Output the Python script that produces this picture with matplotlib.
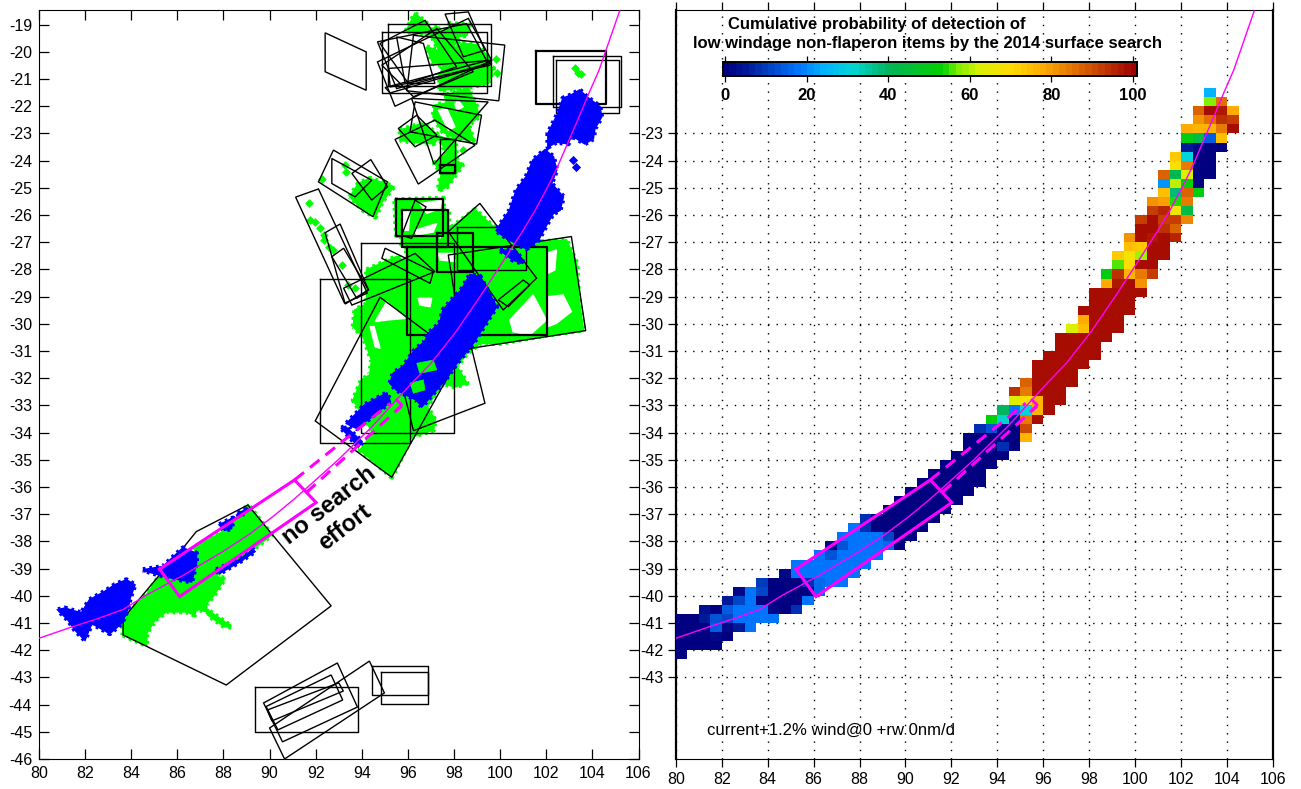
#!/usr/bin/env python3
# Surface search coverage (left) and cumulative detection probability (right)
import numpy as np
import matplotlib
matplotlib.use('Agg')
import matplotlib.pyplot as plt
from matplotlib.colors import LinearSegmentedColormap, Normalize

plt.rcParams['font.family'] = ['Liberation Sans', 'DejaVu Sans']
plt.rcParams['axes.unicode_minus'] = False

# -------------------------
# left panel data (lon, lat)
# -------------------------
lon_ticks = list(range(80, 107, 2))
lat_ticks_left = list(range(-46, -18))
lat_ticks_right = list(range(-43, -22))

arc_lon = [80, 81.48, 82.5, 83.65, 84.66, 86.24, 87.98, 89.1, 90.14, 91.1, 92, 93, 94.5, 95.55, 96.2, 97, 98.07,
           99.14, 99.93, 100.93, 101.5, 102.07, 102.5, 103.36, 103.86, 104.29, 105.18]
arc_lat = [-41.56, -41.13, -40.85, -40.5, -39.97, -39.25, -38.37, -37.75, -37.09, -36.42, -35.74, -34.98, -33.73,
           -32.75, -32.15, -31.45, -30.3, -28.98, -27.96, -26.65, -25.85, -24.95, -24.2, -22.51, -21.5, -20.67, -18.5]

# lon0, lon1, lat0, lat1
search_rects = [
    (102.3, 105.25, -20.15, -22.02), (102.41, 105.15, -20.31, -22.23),
    (95.15, 99.6, -18.98, -21.26), (94.87, 99.41, -19.26, -21.53), (97.39, 98.04, -23.22, -24.47),
    (92.2, 96.09, -28.36, -34.39), (93.96, 98.0, -27.04, -34.02),
    (98.11, 101.14, -26.43, -28.02), (89.35, 93.82, -43.37, -44.99),
    (94.46, 96.88, -42.58, -43.65), (94.85, 96.88, -42.8, -43.98),
]
search_rects_thick = [
    (101.55, 104.58, -19.96, -21.90), (97.39, 98.04, -24.16, -24.47), (95.98, 102.04, -27.16, -30.41),
    (97.25, 98.83, -26.67, -28.08), (95.47, 97.53, -25.42, -26.78), (95.73, 97.75, -25.8, -27.17),
]
search_polys = [
    [(92.41, -19.30), (94.19, -20.0), (94.19, -21.41), (92.41, -20.73)],
    [(97.61, -18.61), (98.62, -18.53), (99.34, -19.94), (98.40, -20.18)],
    [(94.68, -20.37), (98.62, -18.77), (99.63, -20.31), (95.44, -22.0)],
    [(96.24, -19.39), (100.2, -19.75), (99.94, -21.8), (95.95, -21.43)],
    [(94.79, -19.69), (96.74, -18.84), (98.11, -20.55), (96.02, -21.16)],
    [(95.51, -19.45), (96.67, -19.69), (97.17, -21.16), (95.88, -21.16)],
    [(95.15, -20.61), (99.63, -20.31), (99.56, -20.49), (95.23, -21.29)],
    [(94.68, -19.63), (98.55, -18.96), (99.48, -20.43), (95.51, -21.35)],
    [(94.87, -20.49), (97.25, -19.14), (98.83, -20.73), (96.24, -21.65)],
    [(95.01, -21.31), (99.48, -20.31), (99.56, -20.43), (95.23, -21.51)],
    [(96.31, -21.84), (99.19, -22.33), (98.98, -23.39), (96.09, -22.94)],
    [(95.44, -23.22), (97.17, -22.51), (98.91, -23.43), (96.45, -24.86)],
    [(95.58, -22.82), (96.38, -22.33), (97.25, -23.06), (96.31, -23.49)],
    [(97.13, -24.13), (99.48, -21.84), (96.16, -21.71)],
    [(92.12, -24.78), (92.77, -23.61), (95.11, -24.78), (94.48, -26.06)],
    [(92.7, -23.92), (94.43, -24.72), (93.71, -25.33), (92.7, -24.84)],
    [(93.57, -24.47), (94.39, -23.96), (95.11, -24.96), (94.43, -25.45)],
    [(91.13, -25.34), (92.12, -25.04), (94.24, -28.87), (93.25, -29.24)],
    [(92.41, -26.65), (93.06, -26.33), (94.29, -28.75), (93.28, -29.27)],
    [(92.7, -27.53), (93.21, -27.22), (94.29, -28.75), (93.78, -29.06)],
    [(91.98, -33.57), (94.79, -29.02), (98.23, -31.2), (95.3, -35.64)],
    [(96.24, -33.93), (99.34, -32.92), (98.76, -30.9), (95.66, -31.94)],
    [(98.4, -30.94), (103.71, -30.25), (103.09, -26.79), (97.75, -27.47)],
    [(97.75, -26.61), (99.12, -25.57), (101.58, -28.32), (100.13, -29.49)],
    [(99.92, -29.12), (101.0, -28.39), (101.29, -28.57), (100.35, -29.37)],
    [(93.21, -28.69), (96.31, -27.41), (97.17, -28.08), (93.57, -29.31)],
    [(94.87, -27.59), (95.01, -27.22), (97.1, -28.08), (96.96, -28.51)],
    [(96.31, -25.45), (96.78, -25.7), (96.16, -26.86), (95.73, -26.74)],
    [(83.65, -41.44), (88.12, -43.28), (92.67, -40.37), (89.06, -36.66), (86.82, -37.64),
     (86.24, -38.25), (85.23, -39.23), (83.65, -40.83)],
    [(89.74, -43.94), (92.94, -42.47), (93.81, -44.09), (90.56, -45.37)],
    [(89.85, -44.07), (92.67, -42.91), (93.17, -43.83), (90.36, -44.93)],
    [(90.0, -44.86), (94.33, -42.4), (94.98, -43.57), (90.65, -46.0)],
    [(89.9, -44.2), (93.0, -43.2), (93.2, -43.5), (90.1, -44.6)],
]

green_areas = [
    [(96.31, -18.59), (96.89, -19.02), (96.38, -19.26), (95.95, -19.2)],
    [(96.0, -19.25), (97.4, -19.1), (97.03, -19.39), (96.74, -19.33)],
    [(97.75, -18.96), (98.69, -19.02), (98.55, -19.39), (97.9, -19.45)],
    [(97.03, -19.39), (97.68, -19.2), (98.26, -19.57), (97.46, -20.12)],
    [(96.81, -19.82), (97.68, -20.06), (98.4, -19.69), (98.98, -19.75), (99.56, -20.24), (99.41, -20.49),
     (99.7, -20.61), (99.48, -21.16), (98.55, -21.29), (97.39, -21.41), (97.39, -20.92), (97.53, -20.49),
     (97.1, -20.43)],
    [(97.68, -21.59), (98.62, -21.35), (98.98, -22.02), (99.05, -22.39), (98.62, -22.69), (98.83, -23.25),
     (98.11, -23.19), (97.53, -22.94), (97.1, -22.39), (97.17, -21.96), (97.68, -21.9)],
    [(95.66, -22.88), (96.67, -22.63), (97.39, -23.12), (97.1, -23.37), (96.24, -23.31), (95.73, -23.25)],
    [(97.39, -23.19), (98.04, -23.19), (98.11, -24.1), (98.4, -24.1), (97.68, -24.96), (97.32, -25.09),
     (97.46, -24.47), (97.17, -24.1), (97.68, -23.74)],
    [(93.49, -25.33), (93.86, -24.84), (94.36, -24.66), (95.37, -24.96), (94.87, -25.51), (94.58, -26.06),
     (94.07, -25.82)],
    [(95.44, -25.45), (97.53, -25.39), (97.53, -25.82), (97.75, -25.82), (97.75, -26.8), (97.25, -26.68),
     (97.25, -27.17), (95.73, -27.17), (95.73, -26.74), (95.51, -26.74)],
    [(93.64, -30.1), (93.71, -29.49), (94.72, -29.06), (95.95, -28.63), (95.95, -27.16), (97.25, -27.1),
     (97.75, -26.55), (98.91, -25.81), (99.99, -26.67), (101.14, -27.04), (102.87, -26.92), (103.31, -27.77),
     (103.38, -28.88), (103.6, -30.22), (102.01, -30.41), (99.99, -30.71), (99.12, -30.71), (98.55, -31.08),
     (98.11, -31.57), (98.55, -32.18), (98.04, -32.31), (97.53, -32.18), (96.81, -33.04), (97.17, -33.53),
     (97.1, -33.9), (96.16, -34.15), (95.3, -35.62), (93.93, -34.64), (94.5, -34.02), (93.64, -32.8),
     (94.0, -32.06), (94.36, -31.88), (94.43, -31.33), (94.07, -30.47)],
    [(94.22, -28.02), (95.51, -27.53), (95.95, -27.77), (95.95, -28.63), (94.22, -29.24)],
    [(83.65, -41.44), (84.66, -41.81), (84.66, -41.38), (85.02, -40.89), (85.52, -40.58), (86.39, -40.58),
     (86.75, -40.7), (86.82, -40.46), (87.26, -40.58), (87.26, -40.27), (87.54, -40.03), (88.05, -39.36),
     (87.62, -39.29), (88.12, -38.87), (88.7, -38.68), (90.07, -37.76), (89.06, -36.66), (88.7, -37.09),
     (88.12, -37.58), (86.82, -38.19), (86.68, -38.68), (85.23, -39.29), (84.66, -39.97), (83.65, -40.83)],
    [(87.4, -40.58), (88.34, -41.13), (88.05, -41.13), (87.33, -40.7)],
]
green_spots_lon = [99.84, 99.87, 99.0, 103.23, 103.38, 103.52, 93.28, 93.32, 92.27, 91.69, 97.1, 98.4,
                   91.76, 91.98, 92.2, 92.34, 92.34, 92.56, 92.77, 93.13, 93.71, 93.42]
green_spots_lat = [-20.28, -20.77, -21.1, -20.61, -20.77, -20.82, -24.17, -24.41, -24.66, -25.54, -26.07, -23.61,
                   -26.19, -26.25, -26.49, -26.74, -26.92, -27.17, -27.29, -27.83, -28.69, -28.57]
green_holes = [
    [(97.32, -22.14), (97.68, -22.08), (98.04, -22.76), (97.75, -22.88)],
    [(98.04, -21.9), (98.18, -21.78), (98.4, -22.02), (98.11, -22.14)],
    [(96.52, -25.58), (97.46, -25.45), (97.39, -25.76), (96.81, -25.94)],
    [(95.8, -25.82), (96.09, -25.82), (96.02, -26.56), (95.8, -26.56)],
    [(96.31, -26.56), (97.25, -26.31), (97.1, -26.62), (96.38, -26.74)],
    [(100.42, -29.86), (101.43, -28.94), (102.01, -29.86), (101.29, -30.41), (100.56, -30.29)],
    [(102.08, -29.0), (102.73, -28.94), (103.09, -29.55), (102.44, -29.98), (102.08, -30.1)],
    [(102.01, -27.41), (102.44, -27.28), (102.37, -28.02), (102.08, -28.14)],
    [(94.58, -29.92), (95.08, -29.18), (95.88, -29.8), (95.08, -29.86)],
    [(96.45, -29.06), (97.03, -29.06), (96.96, -29.37), (96.52, -29.31)],
    [(97.32, -27.41), (97.97, -27.41), (98.04, -27.71), (97.39, -27.65)],
    [(94.36, -30.1), (94.53, -30.1), (94.79, -30.9), (94.58, -30.84)],
]
blue_areas = [
    [(103.45, -21.41), (103.74, -21.65), (104.32, -22.02), (104.39, -22.39), (104.1, -22.82), (104.03, -23.19),
     (103.67, -23.37), (103.09, -23.06), (102.95, -23.37), (102.44, -23.31), (102.08, -23.49), (102.08, -23.0),
     (102.3, -22.63), (102.51, -22.27), (102.73, -21.71), (103.09, -21.59)],
    [(101.94, -23.61), (102.3, -23.86), (102.44, -24.35), (102.22, -24.84), (102.73, -25.33), (102.59, -25.82),
     (102.3, -25.94), (102.08, -26.25), (101.65, -26.92), (101.14, -27.23), (100.71, -27.05), (99.99, -26.68),
     (99.84, -26.56), (100.42, -25.82), (100.71, -25.08), (101.14, -24.59), (101.43, -23.98)],
    [(98.33, -28.75), (98.69, -28.2), (99.12, -28.26), (99.34, -28.63), (99.56, -28.94), (99.84, -29.37),
     (99.56, -29.73), (98.83, -30.71), (98.11, -31.45), (97.61, -32.06), (97.1, -32.55), (96.6, -33.04),
     (96.38, -32.8), (95.51, -32.43), (95.23, -32.18), (95.37, -31.82), (95.8, -31.57), (96.31, -30.96),
     (96.74, -30.65), (96.89, -30.35), (97.39, -29.98), (97.53, -29.49), (98.04, -29.0)],
    [(93.35, -33.66), (94.14, -32.98), (95.08, -32.55), (95.23, -32.86), (94.43, -33.41), (93.78, -33.84)],
    [(93.13, -33.84), (93.28, -33.78), (94.0, -34.33), (93.86, -34.51)],
    [(99.99, -27.28), (100.71, -27.34), (101.0, -27.77), (100.56, -27.65)],
    [(80.83, -40.52), (81.12, -40.46), (81.84, -40.64), (82.2, -40.15), (82.85, -39.85), (83.29, -39.6),
     (83.79, -39.42), (84.15, -39.6), (83.94, -40.09), (83.86, -40.46), (83.58, -41.01), (83.07, -41.38),
     (82.42, -41.07), (82.28, -41.01), (81.99, -41.62), (81.56, -41.25), (81.27, -40.89)],
    [(84.51, -39.05), (85.38, -38.93), (86.24, -38.25), (86.82, -38.44), (86.82, -38.8), (86.61, -39.48),
     (85.81, -39.35), (85.23, -39.23)],
    [(87.69, -39.05), (88.7, -38.68), (89.28, -38.31), (89.35, -38.37), (88.7, -38.74), (87.83, -39.17)],
    [(87.83, -37.39), (88.41, -37.15), (88.34, -37.52), (88.05, -37.58)],
    [(88.63, -36.97), (88.99, -36.84), (88.7, -37.09)],
]
blue_holes = [
    [(96.38, -31.45), (97.1, -31.33), (97.25, -31.69), (96.52, -31.82)],
    [(96.09, -32.18), (96.67, -32.06), (96.74, -32.43), (96.24, -32.55)],
]
blue_spots_lon = [103.16, 103.31]
blue_spots_lat = [-23.98, -24.23]

box_lon = [85.23, 86.1, 92.02, 91.08, 85.23]
box_lat = [-39.02, -40.03, -36.57, -35.74, -39.02]
dash_upper_lon = [91.08, 95.23]
dash_upper_lat = [-35.74, -32.92]
dash_lower_lon = [91.6, 95.73]
dash_lower_lat = [-36.2, -33.02]
cap_lon = [95.51, 95.73, 95.51]
cap_lat = [-32.80, -32.98, -33.17]

# -------------------------
# right panel data: detection probability, one row per 1/3 degree of latitude
# -------------------------
cell_width = 0.5
row_height = 1 / 3
first_row_top = -21 - row_height
row_start_lon = [103, 103, 102.5, 102.5, 102, 102, 102, 101.5, 101.5, 101, 101, 101, 100.5, 100.5, 100, 100,
                 99.5, 99.5, 99, 99, 98.5, 98.5, 98, 98, 97.5, 97.5, 97, 96.5, 96.5, 96, 95.5, 95.5, 95,
                 94.5, 94.5, 94, 93.5, 93, 92.5, 92.5, 92, 91.5, 91, 90.5, 90, 89.5, 89, 88, 87.5, 87, 86.5,
                 86, 85, 84.5, 83.5, 82.5, 82, 81, 80, 80, 80, 80, 80]
row_values = [
    [24], [57, 85], [87, 97, 96, 78], [80, 85, 93, 92], [78, 76, 75, 83, 97], [50, 43, 15, 74],
    [5, 2, 0, 0], [72, 30, 0, 0], [68, 83, 0, 0], [87, 42, 62, 0, 0], [21, 60, 53, 0], [74, 38, 87, 50],
    [80, 79, 54, 83], [92, 95, 66, 43], [91, 97, 92, 92, 82], [97, 97, 93, 86], [80, 97, 96, 98, 94],
    [74, 72, 98, 98], [73, 66, 58, 98, 98], [56, 70, 98, 98], [50, 93, 76, 84, 92], [77, 96, 98, 80],
    [98, 98, 98, 98, 98], [98, 98, 98, 98], [98, 98, 98, 98, 98], [78, 98, 98, 98], [62, 74, 98, 98, 98],
    [98, 98, 98, 98, 98], [98, 98, 98, 98], [98, 98, 98, 98, 98], [98, 98, 98, 98, 98], [98, 98, 98, 98],
    [87, 98, 98, 98, 98], [93, 83, 98, 98, 98], [62, 68, 76, 98, 98], [40, 18, 30, 75, 98],
    [52, 32, 5, 83, 97], [8, 14, 2, 0, 90], [0, 0, 0, 0, 0, 75], [0, 0, 0, 8, 0], [0, 0, 0, 0, 0],
    [0, 0, 0, 0, 0], [0, 0, 0, 0, 0], [0, 0, 0, 0, 0, 0], [0, 0, 0, 0, 0, 0], [0, 0, 0, 0, 0, 0],
    [0, 0, 0, 0, 0, 0], [8, 0, 0, 0, 0, 0, 0], [18, 8, 0, 0, 0, 0, 0], [18, 18, 18, 18, 12, 0, 0],
    [2, 14, 18, 18, 18, 16, 0], [18, 14, 18, 18, 18, 18], [18, 18, 18, 18, 18, 18, 18],
    [2, 18, 18, 18, 18, 18, 18], [10, 0, 0, 0, 8, 17, 18, 18], [3, 18, 12, 0, 0, 0, 1, 17],
    [5, 12, 18, 1, 0, 0, 1, 18], [4, 1, 15, 18, 18, 18, 2, 0, 8], [0, 0, 6, 14, 12, 18, 18, 18, 18],
    [0, 0, 0, 15, 2, 5, 18], [0, 0, 0, 2, 1], [0, 0, 0, 0], [0],
]

cbar_ticks = [0, 20, 40, 60, 80, 100]
cmap_pos = [0, 0.05, 0.18, 0.24, 0.31, 0.40, 0.53, 0.57, 0.62, 0.70, 0.78, 0.87, 1]
cmap_col = ['#000080', '#001a9a', '#0078ff', '#00b4ff', '#00d7d7', '#00b45a', '#00d200', '#80f000',
            '#dcf000', '#ffdc00', '#ffaa00', '#dc6400', '#a00000']
detect_cmap = LinearSegmentedColormap.from_list('detect', list(zip(cmap_pos, cmap_col)), N=64)
norm = Normalize(0, 100)

W, H = 1301, 789
magenta = '#ff00ff'


def add_ax_px(x0, y0, x1, y1):
    return fig.add_axes([x0 / W, 1 - y1 / H, (x1 - x0) / W, (y1 - y0) / H])


def draw_blob(ax, pts, color, z):
    # dotted outline on top of the fill gives the rough edge of the original point cloud
    lo, la = zip(*(pts + pts[:1]))
    ax.fill(lo, la, facecolor=color, edgecolor=color, lw=1.5, zorder=z)
    ax.plot(lo, la, color=color, lw=4, ls=(0, (0.5, 0.7)), zorder=z)


def draw_arc_box(ax):
    ax.plot(arc_lon, arc_lat, color=magenta, lw=1.0, zorder=6)
    ax.plot(box_lon, box_lat, color=magenta, lw=2.2, zorder=6, solid_joinstyle='miter')
    for lo, la in [(dash_upper_lon, dash_upper_lat), (dash_lower_lon, dash_lower_lat)]:
        ax.plot(lo, la, color=magenta, lw=2.2, ls=(0, (4, 2.5)), zorder=6)
    ax.plot(cap_lon, cap_lat, color=magenta, lw=2.0, zorder=6)


fig = plt.figure(figsize=(W / 100, H / 100), dpi=100)

# -------------------------
# left panel
# -------------------------
ax1 = add_ax_px(39, 10, 638.5, 759)
for pts in green_areas:
    draw_blob(ax1, pts, '#00ff00', 1)
ax1.scatter(green_spots_lon, green_spots_lat, marker='D', s=20, color='#00ff00', lw=0, zorder=1)
for pts in green_holes:
    ax1.fill(*zip(*pts), facecolor='white', edgecolor='white', lw=1, zorder=1.5)
for lo0, lo1, la0, la1 in search_rects:
    ax1.plot([lo0, lo1, lo1, lo0, lo0], [la0, la0, la1, la1, la0], color='black', lw=1.0, zorder=2)
for lo0, lo1, la0, la1 in search_rects_thick:
    ax1.plot([lo0, lo1, lo1, lo0, lo0], [la0, la0, la1, la1, la0], color='black', lw=1.6, zorder=2)
for pts in search_polys:
    ax1.fill(*zip(*pts), facecolor='none', edgecolor='black', lw=1.0, zorder=2, clip_on=True)
for pts in blue_areas:
    draw_blob(ax1, pts, '#0000ff', 3)
for pts in blue_holes:
    ax1.fill(*zip(*pts), facecolor='#00ff00', edgecolor='#00ff00', lw=0.5, zorder=3.5)
ax1.scatter(blue_spots_lon, blue_spots_lat, marker='D', s=22, color='#0000ff', lw=0, zorder=3)
draw_arc_box(ax1)
ax1.text(92.6, -36.66, 'no search', rotation=38, ha='center', va='center', fontsize=17, fontweight='bold')
ax1.text(93.25, -37.47, 'effort', rotation=38, ha='center', va='center', fontsize=17, fontweight='bold')
ax1.set_xlim(80, 106)
ax1.set_ylim(-46, -18.46)
ax1.set_xticks(lon_ticks)
ax1.set_yticks(lat_ticks_left)
ax1.tick_params(direction='in', top=True, right=True, length=7, width=0.9, labelsize=11.5, pad=5)

# -------------------------
# right panel
# -------------------------
ax2 = add_ax_px(675.8, 10, 1273, 759)
grid = np.full((len(row_values), int((106 - 80) / cell_width)), np.nan)
for r in range(len(row_values)):
    c0 = int((row_start_lon[r] - 80) / cell_width)
    grid[r, c0:c0 + len(row_values[r])] = row_values[r]
lon_edges = 80 + cell_width * np.arange(grid.shape[1] + 1)
lat_edges = first_row_top - row_height * np.arange(grid.shape[0] + 1)
ax2.pcolormesh(lon_edges, lat_edges, grid, cmap=detect_cmap, norm=norm, zorder=3)
draw_arc_box(ax2)
ax2.set_xlim(80, 106)
ax2.set_ylim(-46, -18.46)
ax2.set_xticks(lon_ticks)
ax2.set_yticks(lat_ticks_right)
ax2.grid(True, color='black', lw=1.0, ls=(0, (1, 5)), zorder=1)
ax2.set_axisbelow(True)
ax2.tick_params(direction='out', top=True, right=True, length=6, width=0.9, labelsize=11.5, pad=3)
for side in ['left', 'right']:
    ax2.spines[side].set_linewidth(1.6)
ax2.text(88.76, -19.01, 'Cumulative probability of detection of', ha='center', va='center',
         fontsize=12, fontweight='bold', zorder=8)
ax2.text(90.94, -19.71, 'low windage non-flaperon items by the 2014 surface search', ha='center', va='center',
         fontsize=12, fontweight='bold', zorder=8)
ax2.text(81.36, -44.93, 'current+1.2% wind@0 +rw 0nm/d', ha='left', va='center', fontsize=12, zorder=8)

# colour bar
cax = add_ax_px(722.7, 62, 1136.7, 76)
cax.imshow(np.linspace(0, 100, 64)[None, :], extent=(-0.6, 100.9, 0, 1), aspect='auto', cmap=detect_cmap, norm=norm)
cax.set_yticks([])
cax.set_xticks(cbar_ticks)
cax.tick_params(axis='x', direction='out', top=True, length=4, width=0.9, labelsize=12, pad=5)
for side in cax.spines:
    cax.spines[side].set_linewidth(1.4)
for lab in cax.get_xticklabels():
    lab.set_fontweight('bold')

fig.savefig('out.png', dpi=100)
